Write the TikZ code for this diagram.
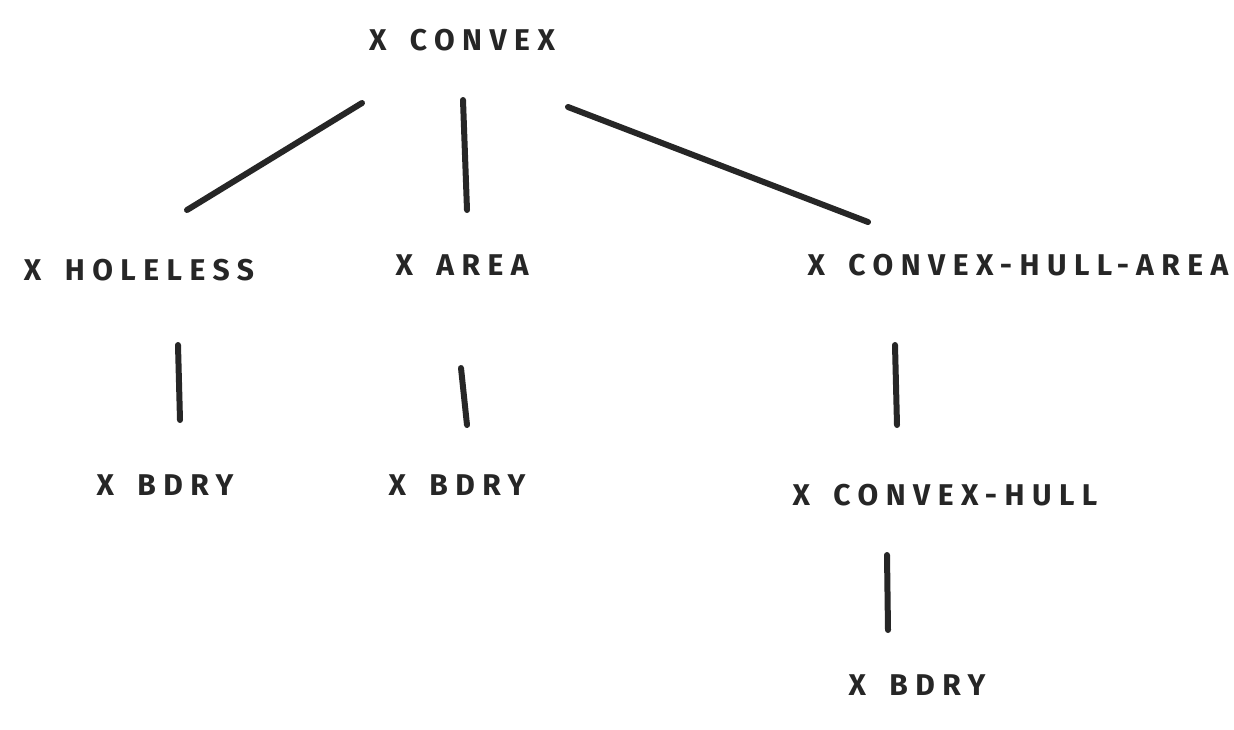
\documentclass[tikz,border=0pt]{standalone}
\usepackage{fontspec}
\setmainfont{Fira Sans}
\newfontfamily\handfont[LetterSpace=25,WordSpace=1.6]{Fira Sans}
\begin{document}
\begin{tikzpicture}[x=1pt,y=-1pt,
  lbl/.style={inner sep=0pt,font=\handfont\fontsize{30}{30}\selectfont\bfseries,text=black!85},
  edge/.style={line width=6pt,line cap=round,draw=black!85}]
\useasboundingbox[fill=white] (0,0) rectangle (1234,729);
\node[lbl] (convex) at (462,40) {X CONVEX};
\node[lbl] (holeless) at (139,270) {X HOLELESS};
\node[lbl] (area) at (462,265) {X AREA};
\node[lbl] (cha) at (1018,265) {X CONVEX-HULL-AREA};
\node[lbl] (bdry1) at (165,485) {X BDRY};
\node[lbl] (bdry2) at (457,485) {X BDRY};
\node[lbl] (ch) at (945,495) {X CONVEX-HULL};
\node[lbl] (bdry3) at (917,685) {X BDRY};
\draw[edge] ([shift={(-100,63)}]convex.center) -- ([shift={(48,-60)}]holeless.center);
\draw[edge] ([shift={(1,60)}]convex.center) -- ([shift={(5,-55)}]area.center);
\draw[edge] ([shift={(106,67)}]convex.center) -- ([shift={(-150,-43)}]cha.center);
\draw[edge] ([shift={(39,75)}]holeless.center) -- ([shift={(15,-65)}]bdry1.center);
\draw[edge] ([shift={(-1,103)}]area.center) -- ([shift={(10,-60)}]bdry2.center);
\draw[edge] ([shift={(-123,80)}]cha.center) -- ([shift={(-48,-70)}]ch.center);
\draw[edge] ([shift={(-58,60)}]ch.center) -- ([shift={(-29,-55)}]bdry3.center);
\end{tikzpicture}
\end{document}
